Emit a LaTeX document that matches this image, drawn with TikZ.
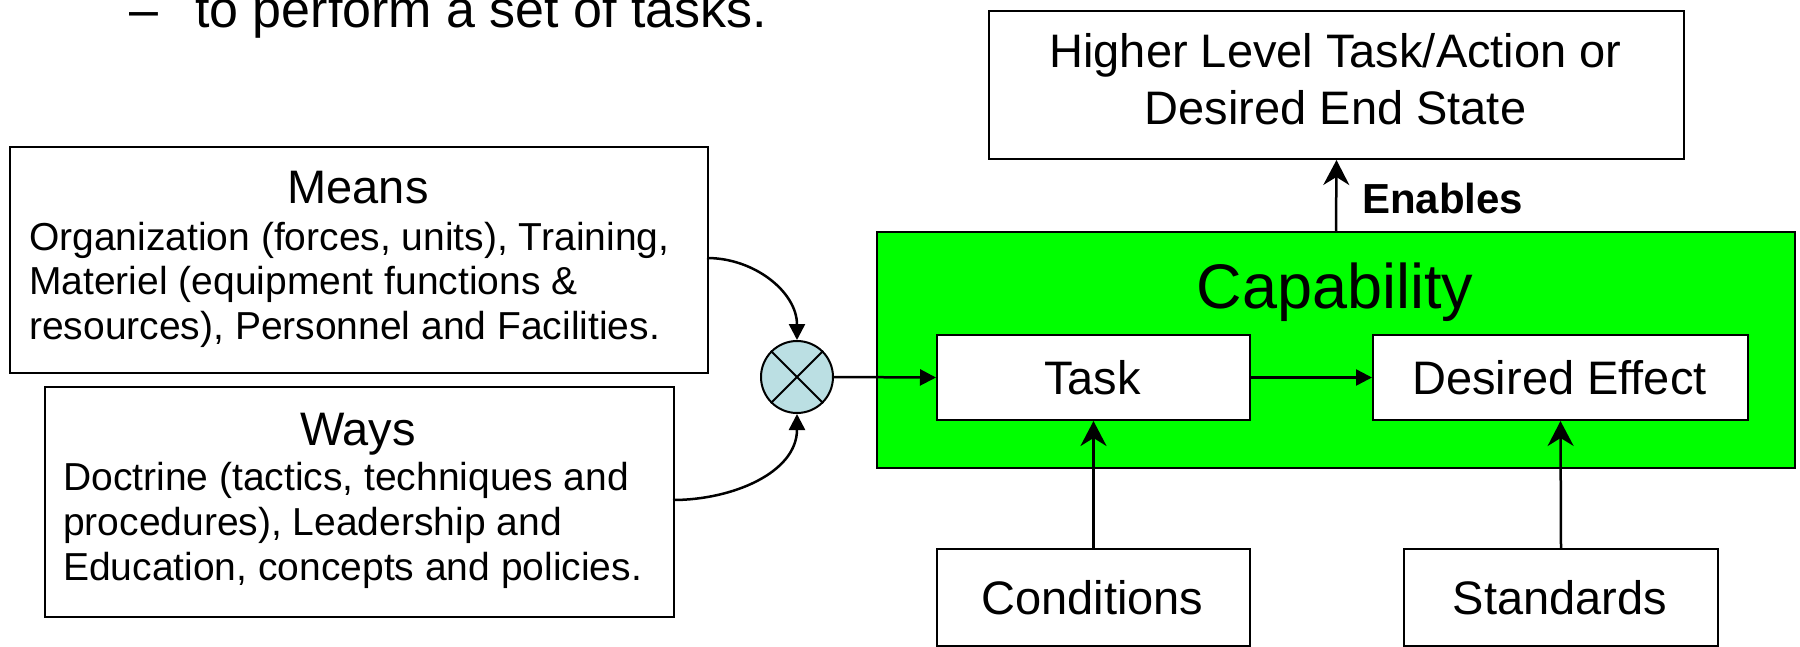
\documentclass[tikz,border=0pt]{standalone}
\usepackage{fontspec}
\setmainfont{Liberation Sans}
\usetikzlibrary{arrows.meta}
\definecolor{capgreen}{RGB}{0,255,0}
\definecolor{mixblue}{RGB}{187,223,227}
\newcommand{\fsz}[2]{\fontsize{#1}{#2}\selectfont}
\begin{document}
\begin{tikzpicture}[x=1pt,y=-1pt,
  box/.style={draw=black,line width=2pt,fill=white,inner sep=0pt,anchor=north west},
  lbl/.style={inner sep=0pt,anchor=base},
  arr/.style={line width=2.5pt,-{Triangle[length=16pt,width=16pt]}},
  varr/.style={line width=2.5pt,-{Stealth[length=25pt,width=26pt,inset=8pt]}}]
\useasboundingbox (0,0) rectangle (1800,646);
\clip (0,0) rectangle (1800,646);

% top (clipped) text
\node[inner sep=0pt,anchor=base west,font=\fsz{52}{58}] (toptext) at (129,27)
  {–\hspace{37pt}to perform a set of tasks.};

% Means box
\node[box,minimum width=698pt,minimum height=226pt] (means) at (9,146) {};
\node[lbl,font=\fsz{47}{52}] (meanst) at (358,203) {Means};
\node[inner sep=0pt,anchor=base west,align=left,font=\fsz{39}{44.5}] (meansb) at (29,339)
  {Organization (forces, units), Training,\\Materiel (equipment functions \&\\resources), Personnel and Facilities.};

% Ways box
\node[box,minimum width=629pt,minimum height=230pt] (ways) at (44,386) {};
\node[lbl,font=\fsz{47}{52}] (wayst) at (358,445) {Ways};
\node[inner sep=0pt,anchor=base west,align=left,font=\fsz{39}{45}] (waysb) at (63,580)
  {Doctrine (tactics, techniques and\\procedures), Leadership and\\Education, concepts and policies.};

% mixing circle
\node[circle,draw=black,line width=2pt,fill=mixblue,minimum size=72pt,inner sep=0pt] (mix) at (797,377) {};
\draw[line width=2pt] (mix.north west) -- (mix.south east);
\draw[line width=2pt] (mix.north east) -- (mix.south west);

% Capability
\node[box,fill=capgreen,minimum width=918pt,minimum height=236pt] (cap) at (876,231) {};
\node[lbl,font=\fsz{63}{70}] (capt) at (1335,308) {Capability};

\node[box,minimum width=313pt,minimum height=85pt] (task) at (936,334) {};
\node[lbl,font=\fsz{47}{52}] (taskt) at (1092.5,394) {Task};
\node[box,minimum width=375pt,minimum height=85pt] (de) at (1372,334) {};
\node[lbl,font=\fsz{47}{52}] (det) at (1559.5,394) {Desired Effect};

% Higher level
\node[box,minimum width=695pt,minimum height=148pt] (higher) at (988,10) {};
\node[lbl,font=\fsz{47}{52}] (hight1) at (1335.5,67) {Higher Level Task/Action or};
\node[lbl,font=\fsz{47}{52}] (hight2) at (1335.5,124) {Desired End State};

% Conditions / Standards
\node[box,minimum width=313pt,minimum height=97pt] (cond) at (936,548) {};
\node[lbl,font=\fsz{47}{52}] (condt) at (1092.5,614) {Conditions};
\node[box,minimum width=314pt,minimum height=97pt] (std) at (1403,548) {};
\node[lbl,font=\fsz{47}{52}] (stdt) at (1560,614) {Standards};

% connectors
\coordinate (mc) at (707,258);
\coordinate (wc) at (673,500);
\draw[arr] (mc) to[out=0,in=90] (mix.north);
\draw[arr] (wc) to[out=0,in=-90] (mix.south);
\draw[arr] (mix.east) -- (task.west);
\draw[arr] (task.east) -- (de.west);
\draw[varr] (cond.north) -- (task.south);
\draw[varr] (std.north) -- (de.south);
\draw[varr] (cap.north) -- (higher.south);
\node[inner sep=0pt,anchor=base west,font=\fsz{42}{48}\bfseries] (enables) at (1362,213) {Enables};
\end{tikzpicture}
\end{document}
